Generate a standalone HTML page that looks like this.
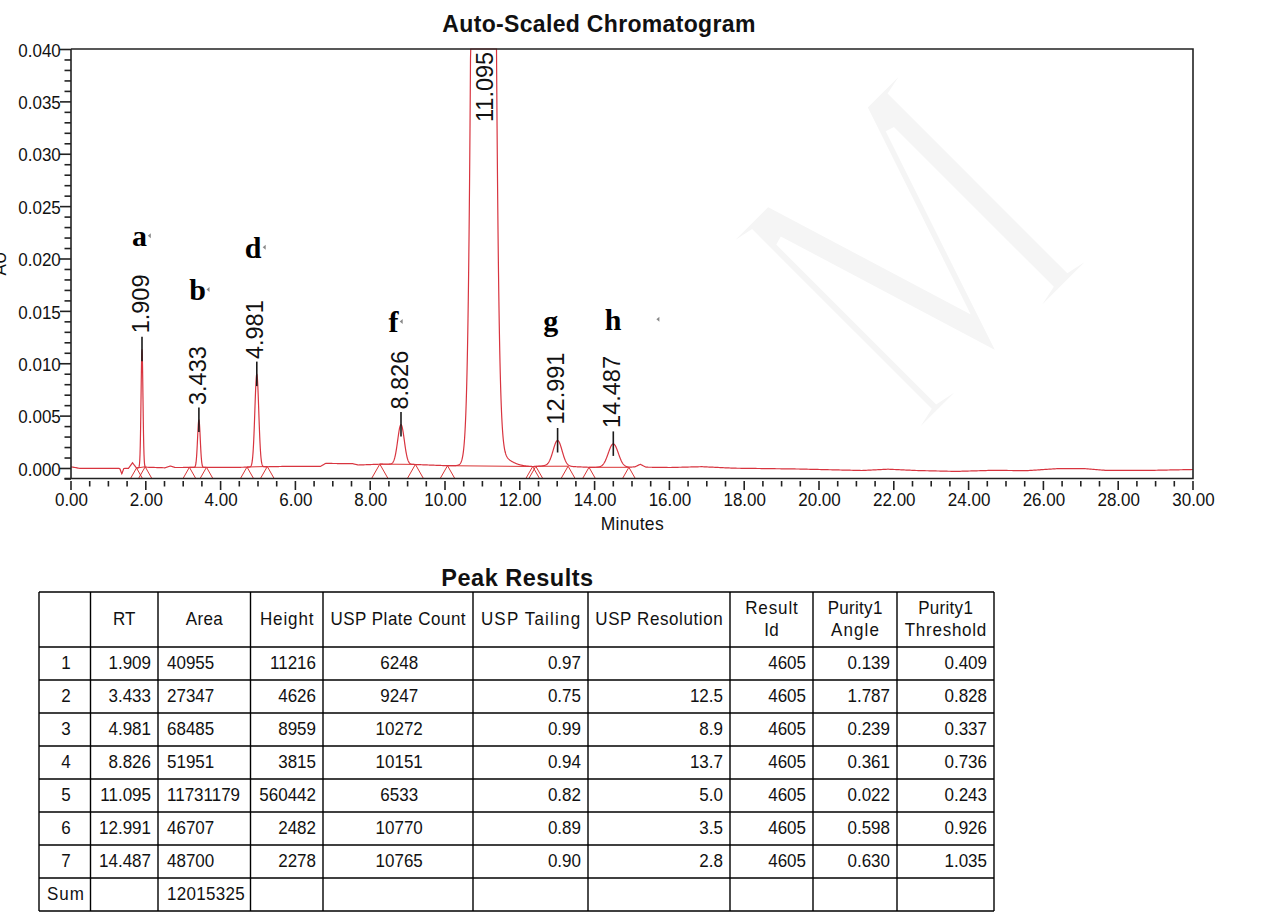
<!DOCTYPE html>
<html><head><meta charset="utf-8"><style>
html,body{margin:0;padding:0;background:#fff;width:1263px;height:917px;overflow:hidden}
svg{display:block}
text{font-family:"Liberation Sans",sans-serif;fill:#111}
.title{font-weight:bold;font-size:23px;letter-spacing:0.33px}
.ylab text{font-size:17px;text-anchor:end}
.xlab text{font-size:17px;text-anchor:middle}
.plab text{font-size:23.5px}
.lets text{font-family:"Liberation Serif",serif;font-weight:bold;font-size:30px;fill:#000}
.tab text{font-size:17px}
.hc{text-anchor:middle} .hr{text-anchor:end} .hl{text-anchor:start}
</style></head><body>
<svg width="1263" height="917" viewBox="0 0 1263 917">
<text transform="translate(912,444) rotate(-45) scale(0.72,1)" style="font-family:'Liberation Serif',serif;font-size:421px;fill:#f5f5f5;stroke:#fff;stroke-width:13px">M</text>
<text class="title" x="599" y="31.5" text-anchor="middle">Auto-Scaled Chromatogram</text>
<g stroke="#d62020" stroke-width="1" fill="none" opacity="0.9">
<polyline points="130.51,478.5 136.5,468.0 142.49,478.5"/><polyline points="138.53,478.5 145.2,466.8 151.87,478.5"/><polyline points="183.02,478.5 189.4,467.3 195.78,478.5"/><polyline points="200.12,478.5 206.5,467.3 212.88,478.5"/><polyline points="240.44,478.5 247,467.0 253.56,478.5"/><polyline points="260.46,478.5 267.3,466.5 274.14,478.5"/><polyline points="371.59,478.5 379.8,464.1 388.01,478.5"/><polyline points="407.36,478.5 415.4,464.4 423.44,478.5"/><polyline points="440.20,478.5 447.5,465.7 454.80,478.5"/><polyline points="525.86,478.5 532.7,466.5 539.54,478.5"/><polyline points="528.85,478.5 535.8,466.3 542.75,478.5"/><polyline points="561.09,478.5 568.1,466.2 575.11,478.5"/><polyline points="582.62,478.5 589,467.3 595.38,478.5"/><polyline points="622.52,478.5 628.9,467.3 635.28,478.5"/>
<line x1="136.5" y1="468.0" x2="145.2" y2="466.8"/><line x1="189.4" y1="467.3" x2="206.5" y2="467.3"/><line x1="247" y1="467.0" x2="267.3" y2="466.5"/><line x1="379.8" y1="464.1" x2="415.4" y2="464.4"/><line x1="447.5" y1="465.7" x2="532.7" y2="466.5"/><line x1="535.8" y1="466.3" x2="568.1" y2="466.2"/><line x1="589" y1="467.3" x2="628.9" y2="467.3"/>
</g>
<polyline fill="none" stroke="#d8343f" stroke-width="1.2" points="71.00,466.80 72.00,466.98 73.00,467.16 74.00,467.33 75.00,467.51 76.00,467.69 77.00,467.87 78.00,468.04 79.00,468.22 80.00,468.40 81.00,468.40 82.00,468.40 83.00,468.40 84.00,468.40 85.00,468.40 86.00,468.40 87.00,468.40 88.00,468.40 89.00,468.40 90.00,468.40 91.00,468.40 92.00,468.40 93.00,468.40 94.00,468.40 95.00,468.40 96.00,468.40 97.00,468.40 98.00,468.40 99.00,468.40 100.00,468.40 101.00,468.40 102.00,468.40 103.00,468.40 104.00,468.40 105.00,468.40 106.00,468.40 107.00,468.40 108.00,468.40 109.00,468.40 110.00,468.40 111.00,468.40 112.00,468.40 113.00,468.40 114.00,468.40 115.00,468.40 116.00,468.40 117.00,468.40 118.00,468.40 119.00,468.40 120.00,468.95 121.00,471.70 121.25,472.39 121.50,473.07 121.75,473.76 122.00,473.36 122.25,472.69 122.50,472.01 122.75,471.33 123.00,470.66 123.25,469.99 123.50,469.31 123.75,468.63 124.00,468.49 124.25,468.48 124.50,468.47 124.75,468.46 125.00,468.45 125.25,468.44 125.50,468.43 125.75,468.42 126.00,468.41 126.25,468.40 126.50,468.39 126.75,468.37 127.00,468.36 127.25,468.35 127.50,468.34 127.75,468.33 128.00,468.32 128.25,468.31 128.50,468.30 128.75,467.96 129.00,467.61 129.25,467.27 129.50,466.93 129.75,466.58 130.00,466.24 130.25,465.89 130.50,465.55 130.75,465.21 131.00,464.86 131.25,464.52 131.50,464.18 131.75,463.83 132.00,463.49 132.25,463.14 132.50,462.80 132.75,463.12 133.00,463.45 133.25,463.78 133.50,464.10 133.75,464.43 134.00,464.75 134.25,465.07 134.50,465.40 134.75,465.72 135.00,466.05 135.25,466.37 135.50,466.70 135.75,467.02 136.00,467.35 136.25,467.67 136.50,468.00 136.75,467.98 137.00,467.96 137.25,467.94 137.50,467.91 137.75,467.89 138.00,467.86 138.25,467.80 138.50,467.70 138.75,467.47 139.00,466.98 139.25,465.98 139.50,464.04 139.75,460.57 140.00,454.81 140.25,446.01 140.50,433.67 140.75,417.89 141.00,399.68 141.25,381.02 141.50,364.63 141.75,353.35 142.00,349.30 142.25,353.30 142.50,364.55 142.75,380.89 143.00,399.51 143.25,417.68 143.50,433.42 143.75,445.72 144.00,454.48 144.25,460.19 144.50,463.62 144.75,465.51 145.00,466.48 145.25,466.92 145.50,467.11 145.75,467.17 146.00,467.18 146.25,467.20 146.50,467.21 146.75,467.22 147.00,467.23 147.25,467.24 147.50,467.25 147.75,467.26 148.00,467.26 148.25,467.27 148.50,467.28 148.75,467.29 149.00,467.29 149.25,467.30 149.50,467.31 149.75,467.32 150.00,467.33 150.25,467.33 150.50,467.34 150.75,467.35 151.00,467.36 151.25,467.37 151.50,467.37 151.75,467.38 152.00,467.39 152.25,467.40 152.50,467.41 152.75,467.41 153.00,467.42 153.25,467.43 153.50,467.44 153.75,467.44 154.00,467.45 154.25,467.46 154.50,467.47 154.75,467.48 155.00,467.48 155.25,467.49 155.50,467.50 155.75,467.51 156.00,467.52 156.25,467.52 156.50,467.53 156.75,467.54 157.00,467.55 157.25,467.56 157.50,467.56 157.75,467.57 158.00,467.58 158.25,467.59 158.50,467.59 158.75,467.60 159.00,467.61 159.25,467.62 159.50,467.63 159.75,467.63 160.00,467.64 160.25,467.65 160.50,467.66 160.75,467.67 161.00,467.67 161.25,467.68 161.50,467.69 161.75,467.70 162.00,467.71 162.25,467.71 162.50,467.72 162.75,467.73 163.00,467.74 163.25,467.74 163.50,467.75 163.75,467.76 164.00,467.77 164.25,467.78 164.50,467.78 164.75,467.79 165.00,467.80 165.25,467.72 165.50,467.63 165.75,467.55 166.00,467.47 166.25,467.38 166.50,467.30 166.75,467.22 167.00,467.13 167.25,467.05 167.50,466.97 167.75,466.88 168.00,466.80 168.25,466.72 168.50,466.63 168.75,466.55 169.00,466.47 169.25,466.38 169.50,466.30 169.75,466.22 170.00,466.13 170.25,466.05 170.50,466.03 170.75,466.11 171.00,466.20 171.25,466.28 171.50,466.36 171.75,466.44 172.00,466.52 172.25,466.60 172.50,466.68 172.75,466.77 173.00,466.85 173.25,466.93 173.50,467.01 173.75,467.09 174.00,467.17 174.25,467.26 174.50,467.34 174.75,467.42 175.00,467.50 175.25,467.50 175.50,467.50 175.75,467.50 176.00,467.50 176.25,467.50 176.50,467.50 176.75,467.49 177.00,467.49 177.25,467.49 177.50,467.49 177.75,467.49 178.00,467.49 178.25,467.49 178.50,467.49 178.75,467.49 179.00,467.49 179.25,467.49 179.50,467.49 179.75,467.49 180.00,467.48 180.25,467.48 180.50,467.48 180.75,467.48 181.00,467.48 181.25,467.48 181.50,467.48 181.75,467.48 182.00,467.48 182.25,467.48 182.50,467.48 182.75,467.48 183.00,467.48 183.25,467.47 183.50,467.47 183.75,467.47 184.00,467.47 184.25,467.47 184.50,467.47 184.75,467.47 185.00,467.47 185.25,467.47 185.50,467.47 185.75,467.47 186.00,467.47 186.25,467.47 186.50,467.46 186.75,467.46 187.00,467.46 187.25,467.46 187.50,467.46 187.75,467.46 188.00,467.46 188.25,467.46 188.50,467.46 188.75,467.46 189.00,467.46 189.25,467.46 189.50,467.46 189.75,467.45 190.00,467.45 190.25,467.45 190.50,467.45 190.75,467.45 191.00,467.45 191.25,467.45 191.50,467.45 191.75,467.45 192.00,467.45 192.25,467.45 192.50,467.45 192.75,467.44 193.00,467.44 193.25,467.44 193.50,467.43 193.75,467.41 194.00,467.38 194.25,467.31 194.50,467.21 194.75,467.02 195.00,466.71 195.25,466.21 195.50,465.45 195.75,464.32 196.00,462.71 196.25,460.53 196.50,457.67 196.75,454.09 197.00,449.82 197.25,444.96 197.50,439.73 197.75,434.44 198.00,429.45 198.25,425.19 198.50,422.04 198.75,420.29 199.00,420.13 199.25,421.57 199.50,424.46 199.75,428.53 200.00,433.39 200.25,438.66 200.50,443.93 200.75,448.88 201.00,453.28 201.25,457.00 201.50,460.00 201.75,462.31 202.00,464.02 202.25,465.23 202.50,466.06 202.75,466.60 203.00,466.94 203.25,467.15 203.50,467.27 203.75,467.34 204.00,467.37 204.25,467.39 204.50,467.40 204.75,467.40 205.00,467.41 205.25,467.41 205.50,467.41 205.75,467.41 206.00,467.40 206.25,467.40 206.50,467.40 206.75,467.40 207.00,467.40 207.25,467.40 207.50,467.40 207.75,467.40 208.00,467.40 208.25,467.40 208.50,467.40 208.75,467.40 209.00,467.40 209.25,467.39 209.50,467.39 209.75,467.39 210.00,467.39 210.25,467.39 210.50,467.39 210.75,467.39 211.00,467.39 211.25,467.39 211.50,467.39 211.75,467.39 212.00,467.39 212.25,467.39 212.50,467.38 212.75,467.38 213.00,467.38 213.25,467.38 213.50,467.38 213.75,467.38 214.00,467.38 214.25,467.38 214.50,467.38 214.75,467.38 215.00,467.38 215.25,467.38 215.50,467.38 215.75,467.37 216.00,467.37 216.25,467.37 216.50,467.37 216.75,467.37 217.00,467.37 217.25,467.37 217.50,467.37 217.75,467.37 218.00,467.37 218.25,467.37 218.50,467.37 218.75,467.37 219.00,467.36 219.25,467.36 219.50,467.36 219.75,467.36 220.00,467.36 220.25,467.36 220.50,467.36 220.75,467.36 221.00,467.36 221.25,467.36 221.50,467.36 221.75,467.36 222.00,467.36 222.25,467.35 222.50,467.35 222.75,467.35 223.00,467.35 223.25,467.35 223.50,467.35 223.75,467.35 224.00,467.35 224.25,467.35 224.50,467.35 224.75,467.35 225.00,467.35 225.25,467.35 225.50,467.34 225.75,467.34 226.00,467.34 226.25,467.34 226.50,467.34 226.75,467.34 227.00,467.34 227.25,467.34 227.50,467.34 227.75,467.34 228.00,467.34 228.25,467.34 228.50,467.34 228.75,467.33 229.00,467.33 229.25,467.33 229.50,467.33 229.75,467.33 230.00,467.33 230.25,467.33 230.50,467.33 230.75,467.33 231.00,467.33 231.25,467.33 231.50,467.33 231.75,467.33 232.00,467.32 232.25,467.32 232.50,467.32 232.75,467.32 233.00,467.32 233.25,467.32 233.50,467.32 233.75,467.32 234.00,467.32 234.25,467.32 234.50,467.32 234.75,467.32 235.00,467.32 235.25,467.31 235.50,467.31 235.75,467.31 236.00,467.31 236.25,467.31 236.50,467.31 236.75,467.31 237.00,467.31 237.25,467.31 237.50,467.31 237.75,467.31 238.00,467.31 238.25,467.31 238.50,467.30 238.75,467.30 239.00,467.30 239.25,467.30 239.50,467.30 239.75,467.30 240.00,467.30 240.25,467.30 240.50,467.29 240.75,467.28 241.00,467.28 241.25,467.27 241.50,467.27 241.75,467.26 242.00,467.26 242.25,467.25 242.50,467.25 242.75,467.24 243.00,467.24 243.25,467.23 243.50,467.23 243.75,467.22 244.00,467.22 244.25,467.21 244.50,467.21 244.75,467.20 245.00,467.20 245.25,467.19 245.50,467.19 245.75,467.18 246.00,467.18 246.25,467.17 246.50,467.17 246.75,467.16 247.00,467.16 247.25,467.15 247.50,467.15 247.75,467.14 248.00,467.14 248.25,467.13 248.50,467.12 248.75,467.11 249.00,467.09 249.25,467.06 249.50,467.03 249.75,466.97 250.00,466.89 250.25,466.77 250.50,466.59 250.75,466.33 251.00,465.97 251.25,465.46 251.50,464.76 251.75,463.82 252.00,462.57 252.25,460.95 252.50,458.89 252.75,456.30 253.00,453.13 253.25,449.33 253.50,444.85 253.75,439.70 254.00,433.90 254.25,427.52 254.50,420.69 254.75,413.57 255.00,406.35 255.25,399.29 255.50,392.63 255.75,386.65 256.00,381.61 256.25,377.73 256.50,375.20 256.75,374.13 257.00,374.58 257.25,376.53 257.50,379.88 257.75,384.47 258.00,390.10 258.25,396.50 258.50,403.42 258.75,410.60 259.00,417.78 259.25,424.74 259.50,431.30 259.75,437.33 260.00,442.74 260.25,447.48 260.50,451.54 260.75,454.95 261.00,457.75 261.25,460.00 261.50,461.78 261.75,463.16 262.00,464.21 262.25,464.99 262.50,465.55 262.75,465.96 263.00,466.25 263.25,466.44 263.50,466.58 263.75,466.66 264.00,466.72 264.25,466.75 264.50,466.77 264.75,466.78 265.00,466.79 265.25,466.79 265.50,466.79 265.75,466.78 266.00,466.78 266.25,466.77 266.50,466.77 266.75,466.76 267.00,466.76 267.25,466.75 267.50,466.75 267.75,466.74 268.00,466.74 268.25,466.73 268.50,466.73 268.75,466.72 269.00,466.72 269.25,466.71 269.50,466.71 269.75,466.70 270.00,466.70 270.25,466.69 270.50,466.69 270.75,466.68 271.00,466.68 271.25,466.67 271.50,466.67 271.75,466.66 272.00,466.66 272.25,466.65 272.50,466.65 272.75,466.64 273.00,466.64 273.25,466.63 273.50,466.63 273.75,466.62 274.00,466.62 274.25,466.62 274.50,466.61 274.75,466.61 275.00,466.60 275.25,466.60 275.50,466.59 275.75,466.59 276.00,466.58 276.25,466.57 276.50,466.57 276.75,466.56 277.00,466.56 277.25,466.56 277.50,466.55 277.75,466.55 278.00,466.54 278.25,466.54 278.50,466.53 278.75,466.53 279.00,466.52 279.25,466.51 279.50,466.51 279.75,466.50 280.00,466.50 280.25,466.50 280.50,466.49 280.75,466.49 281.00,466.48 281.25,466.48 281.50,466.47 281.75,466.47 282.00,466.46 282.25,466.45 282.50,466.45 282.75,466.44 283.00,466.44 283.25,466.44 283.50,466.43 283.75,466.43 284.00,466.42 284.25,466.42 284.50,466.41 284.75,466.41 285.00,466.40 285.25,466.40 285.50,466.39 285.75,466.38 286.00,466.38 286.25,466.38 286.50,466.37 286.75,466.37 287.00,466.36 287.25,466.36 287.50,466.35 287.75,466.35 288.00,466.34 288.25,466.34 288.50,466.33 288.75,466.32 289.00,466.32 289.25,466.31 289.50,466.31 289.75,466.31 290.00,466.30 290.25,466.30 290.50,466.30 290.75,466.30 291.00,466.30 291.25,466.30 291.50,466.30 291.75,466.30 292.00,466.30 292.25,466.30 292.50,466.30 292.75,466.30 293.00,466.30 293.25,466.30 293.50,466.30 293.75,466.30 294.00,466.30 294.25,466.30 294.50,466.30 294.75,466.30 295.00,466.30 295.25,466.30 295.50,466.30 295.75,466.30 296.00,466.30 296.25,466.30 296.50,466.30 296.75,466.30 297.00,466.30 297.25,466.30 297.50,466.30 297.75,466.30 298.00,466.30 298.25,466.30 298.50,466.30 298.75,466.30 299.00,466.30 299.25,466.30 299.50,466.30 299.75,466.30 300.00,466.30 300.25,466.30 300.50,466.30 300.75,466.30 301.00,466.30 301.25,466.30 301.50,466.30 301.75,466.30 302.00,466.30 302.25,466.30 302.50,466.30 302.75,466.30 303.00,466.30 303.25,466.30 303.50,466.30 303.75,466.30 304.00,466.30 304.25,466.30 304.50,466.30 304.75,466.30 305.00,466.30 305.25,466.30 305.50,466.30 305.75,466.30 306.00,466.30 306.25,466.30 306.50,466.30 306.75,466.30 307.00,466.30 307.25,466.30 307.50,466.30 307.75,466.30 308.00,466.30 308.25,466.30 308.50,466.30 308.75,466.30 309.00,466.30 309.25,466.30 309.50,466.30 309.75,466.30 310.00,466.30 310.25,466.30 310.50,466.30 310.75,466.30 311.00,466.30 311.25,466.30 311.50,466.30 311.75,466.30 312.00,466.30 312.25,466.30 312.50,466.30 312.75,466.30 313.00,466.30 313.25,466.30 313.50,466.30 313.75,466.30 314.00,466.30 314.25,466.30 314.50,466.30 314.75,466.30 315.00,466.30 315.25,466.30 315.50,466.30 315.75,466.30 316.00,466.30 316.25,466.30 316.50,466.30 316.75,466.30 317.00,466.30 317.25,466.30 317.50,466.30 317.75,466.30 318.00,466.30 318.25,466.30 318.50,466.30 318.75,466.30 319.00,466.30 319.25,466.30 319.50,466.30 319.75,466.30 320.00,466.30 320.25,466.30 320.50,466.30 320.75,466.21 321.00,466.07 321.25,465.92 321.50,465.78 321.75,465.63 322.00,465.49 322.25,465.34 322.50,465.20 322.75,465.05 323.00,464.91 323.25,464.76 323.50,464.62 323.75,464.47 324.00,464.33 324.25,464.18 324.50,464.04 324.75,463.89 325.00,463.75 325.25,463.60 325.50,463.46 325.75,463.40 326.00,463.40 326.25,463.41 326.50,463.41 326.75,463.41 327.00,463.42 327.25,463.42 327.50,463.42 327.75,463.42 328.00,463.43 328.25,463.43 328.50,463.43 328.75,463.43 329.00,463.44 329.25,463.44 329.50,463.44 329.75,463.45 330.00,463.45 330.25,463.45 330.50,463.45 330.75,463.46 331.00,463.46 331.25,463.46 331.50,463.47 331.75,463.47 332.00,463.47 332.25,463.47 332.50,463.48 332.75,463.48 333.00,463.48 333.25,463.48 333.50,463.49 333.75,463.49 334.00,463.49 334.25,463.50 334.50,463.50 334.75,463.50 335.00,463.50 335.25,463.51 335.50,463.51 335.75,463.51 336.00,463.52 336.25,463.52 336.50,463.52 336.75,463.52 337.00,463.53 337.25,463.53 337.50,463.53 337.75,463.53 338.00,463.54 338.25,463.54 338.50,463.54 338.75,463.55 339.00,463.55 339.25,463.55 339.50,463.55 339.75,463.56 340.00,463.56 340.25,463.56 340.50,463.56 340.75,463.57 341.00,463.57 341.25,463.57 341.50,463.58 341.75,463.58 342.00,463.58 342.25,463.58 342.50,463.59 342.75,463.59 343.00,463.59 343.25,463.60 343.50,463.60 343.75,463.60 344.00,463.60 344.25,463.61 344.50,463.61 344.75,463.61 345.00,463.61 345.25,463.62 345.50,463.62 345.75,463.62 346.00,463.63 346.25,463.63 346.50,463.63 346.75,463.63 347.00,463.64 347.25,463.64 347.50,463.64 347.75,463.65 348.00,463.65 348.25,463.65 348.50,463.65 348.75,463.66 349.00,463.66 349.25,463.66 349.50,463.66 349.75,463.67 350.00,463.67 350.25,463.67 350.50,463.68 350.75,463.68 351.00,463.68 351.25,463.68 351.50,463.69 351.75,463.69 352.00,463.69 352.25,463.70 352.50,463.70 352.75,463.71 353.00,463.77 353.25,463.83 353.50,463.88 353.75,463.94 354.00,464.00 354.25,464.05 354.50,464.11 354.75,464.17 355.00,464.22 355.25,464.28 355.50,464.34 355.75,464.40 356.00,464.45 356.25,464.51 356.50,464.57 356.75,464.62 357.00,464.68 357.25,464.74 357.50,464.79 357.75,464.85 358.00,464.91 358.25,464.97 358.50,465.00 358.75,464.99 359.00,464.98 359.25,464.97 359.50,464.96 359.75,464.95 360.00,464.94 360.25,464.93 360.50,464.92 360.75,464.91 361.00,464.90 361.25,464.89 361.50,464.89 361.75,464.88 362.00,464.87 362.25,464.86 362.50,464.85 362.75,464.84 363.00,464.83 363.25,464.82 363.50,464.81 363.75,464.80 364.00,464.79 364.25,464.78 364.50,464.77 364.75,464.76 365.00,464.76 365.25,464.75 365.50,464.74 365.75,464.73 366.00,464.72 366.25,464.71 366.50,464.70 366.75,464.69 367.00,464.68 367.25,464.67 367.50,464.66 367.75,464.65 368.00,464.64 368.25,464.64 368.50,464.63 368.75,464.62 369.00,464.61 369.25,464.60 369.50,464.59 369.75,464.58 370.00,464.57 370.25,464.56 370.50,464.55 370.75,464.54 371.00,464.53 371.25,464.52 371.50,464.51 371.75,464.51 372.00,464.50 372.25,464.49 372.50,464.48 372.75,464.47 373.00,464.46 373.25,464.45 373.50,464.44 373.75,464.43 374.00,464.42 374.25,464.41 374.50,464.40 374.75,464.39 375.00,464.39 375.25,464.38 375.50,464.37 375.75,464.36 376.00,464.35 376.25,464.34 376.50,464.33 376.75,464.32 377.00,464.31 377.25,464.30 377.50,464.29 377.75,464.28 378.00,464.27 378.25,464.26 378.50,464.26 378.75,464.25 379.00,464.24 379.25,464.23 379.50,464.22 379.75,464.21 380.00,464.20 380.25,464.20 380.50,464.20 380.75,464.21 381.00,464.21 381.25,464.21 381.50,464.21 381.75,464.21 382.00,464.22 382.25,464.22 382.50,464.22 382.75,464.22 383.00,464.23 383.25,464.23 383.50,464.23 383.75,464.23 384.00,464.23 384.25,464.24 384.50,464.24 384.75,464.24 385.00,464.24 385.25,464.24 385.50,464.25 385.75,464.25 386.00,464.25 386.25,464.25 386.50,464.25 386.75,464.25 387.00,464.26 387.25,464.26 387.50,464.26 387.75,464.25 388.00,464.25 388.25,464.25 388.50,464.24 388.75,464.23 389.00,464.22 389.25,464.21 389.50,464.19 389.75,464.16 390.00,464.13 390.25,464.09 390.50,464.04 390.75,463.97 391.00,463.89 391.25,463.79 391.50,463.67 391.75,463.52 392.00,463.34 392.25,463.12 392.50,462.87 392.75,462.56 393.00,462.21 393.25,461.79 393.50,461.31 393.75,460.76 394.00,460.13 394.25,459.41 394.50,458.61 394.75,457.71 395.00,456.71 395.25,455.61 395.50,454.41 395.75,453.11 396.00,451.71 396.25,450.22 396.50,448.64 396.75,446.99 397.00,445.26 397.25,443.49 397.50,441.68 397.75,439.86 398.00,438.04 398.25,436.25 398.50,434.50 398.75,432.83 399.00,431.26 399.25,429.80 399.50,428.49 399.75,427.34 400.00,426.38 400.25,425.61 400.50,425.05 400.75,424.71 401.00,424.60 401.25,424.72 401.50,425.06 401.75,425.62 402.00,426.39 402.25,427.36 402.50,428.52 402.75,429.83 403.00,431.29 403.25,432.87 403.50,434.54 403.75,436.29 404.00,438.09 404.25,439.91 404.50,441.74 404.75,443.55 405.00,445.33 405.25,447.06 405.50,448.72 405.75,450.30 406.00,451.80 406.25,453.20 406.50,454.51 406.75,455.71 407.00,456.81 407.25,457.82 407.50,458.72 407.75,459.53 408.00,460.25 408.25,460.88 408.50,461.44 408.75,461.92 409.00,462.34 409.25,462.70 409.50,463.01 409.75,463.27 410.00,463.49 410.25,463.68 410.50,463.83 410.75,463.96 411.00,464.06 411.25,464.15 411.50,464.22 411.75,464.27 412.00,464.32 412.25,464.36 412.50,464.39 412.75,464.41 413.00,464.43 413.25,464.44 413.50,464.46 413.75,464.47 414.00,464.47 414.25,464.48 414.50,464.49 414.75,464.49 415.00,464.50 415.25,464.51 415.50,464.52 415.75,464.53 416.00,464.54 416.25,464.55 416.50,464.56 416.75,464.57 417.00,464.57 417.25,464.58 417.50,464.59 417.75,464.60 418.00,464.61 418.25,464.62 418.50,464.63 418.75,464.64 419.00,464.65 419.25,464.66 419.50,464.67 419.75,464.68 420.00,464.69 420.25,464.70 420.50,464.71 420.75,464.72 421.00,464.72 421.25,464.73 421.50,464.74 421.75,464.75 422.00,464.76 422.25,464.77 422.50,464.78 422.75,464.79 423.00,464.80 423.25,464.81 423.50,464.82 423.75,464.83 424.00,464.84 424.25,464.85 424.50,464.86 424.75,464.87 425.00,464.87 425.25,464.88 425.50,464.89 425.75,464.90 426.00,464.91 426.25,464.92 426.50,464.93 426.75,464.94 427.00,464.95 427.25,464.96 427.50,464.97 427.75,464.98 428.00,464.99 428.25,465.00 428.50,465.01 428.75,465.02 429.00,465.02 429.25,465.03 429.50,465.04 429.75,465.05 430.00,465.06 430.25,465.07 430.50,465.08 430.75,465.09 431.00,465.10 431.25,465.11 431.50,465.12 431.75,465.13 432.00,465.14 432.25,465.15 432.50,465.16 432.75,465.17 433.00,465.17 433.25,465.18 433.50,465.19 433.75,465.20 434.00,465.21 434.25,465.22 434.50,465.23 434.75,465.24 435.00,465.25 435.25,465.26 435.50,465.27 435.75,465.28 436.00,465.29 436.25,465.30 436.50,465.31 436.75,465.32 437.00,465.32 437.25,465.33 437.50,465.34 437.75,465.35 438.00,465.36 438.25,465.37 438.50,465.38 438.75,465.39 439.00,465.40 439.25,465.41 439.50,465.42 439.75,465.43 440.00,465.44 440.25,465.45 440.50,465.46 440.75,465.47 441.00,465.47 441.25,465.48 441.50,465.49 441.75,465.50 442.00,465.51 442.25,465.52 442.50,465.53 442.75,465.54 443.00,465.55 443.25,465.56 443.50,465.57 443.75,465.58 444.00,465.59 444.25,465.60 444.50,465.60 444.75,465.61 445.00,465.62 445.25,465.63 445.50,465.64 445.75,465.65 446.00,465.66 446.25,465.67 446.50,465.68 446.75,465.69 447.00,465.70 447.25,465.70 447.50,465.69 447.75,465.69 448.00,465.69 448.25,465.69 448.50,465.69 448.75,465.69 449.00,465.69 449.25,465.69 449.50,465.69 449.75,465.68 450.00,465.68 450.25,465.68 450.50,465.68 450.75,465.68 451.00,465.68 451.25,465.67 451.50,465.67 451.75,465.67 452.00,465.67 452.25,465.67 452.50,465.66 452.75,465.66 453.00,465.66 453.25,465.65 453.50,465.65 453.75,465.64 454.00,465.63 454.25,465.63 454.50,465.62 454.75,465.61 455.00,465.60 455.25,465.59 455.50,465.57 455.75,465.55 456.00,465.53 456.25,465.51 456.50,465.48 456.75,465.45 457.00,465.41 457.25,465.36 457.50,465.31 457.75,465.25 458.00,465.17 458.25,465.08 458.50,464.98 458.75,464.86 459.00,464.72 459.25,464.55 459.50,464.35 459.75,464.12 460.00,463.85 460.25,463.54 460.50,463.18 460.75,462.75 461.00,462.26 461.25,461.69 461.50,461.03 461.75,460.26 462.00,459.38 462.25,458.37 462.50,457.20 462.75,455.86 463.00,454.33 463.25,452.58 463.50,450.58 463.75,448.30 464.00,445.71 464.25,442.77 464.50,439.44 464.75,435.68 465.00,431.43 465.25,426.64 465.50,421.27 465.75,415.23 466.00,408.48 466.25,400.93 466.50,392.51 466.75,383.14 467.00,372.73 467.25,361.20 467.50,348.43 467.75,334.34 468.00,318.80 468.25,301.72 468.50,282.98 468.75,262.45 469.00,240.02 469.25,215.55 469.50,188.92 469.75,160.00 470.00,128.65 470.25,94.75 470.50,58.16 470.75,49.00 471.00,49.00 471.25,49.00 471.50,49.00 471.75,49.00 472.00,49.00 472.25,49.00 472.50,49.00 472.75,49.00 473.00,49.00 473.25,49.00 473.50,49.00 473.75,49.00 474.00,49.00 474.25,49.00 474.50,49.00 474.75,49.00 475.00,49.00 475.25,49.00 475.50,49.00 475.75,49.00 476.00,49.00 476.25,49.00 476.50,49.00 476.75,49.00 477.00,49.00 477.25,49.00 477.50,49.00 477.75,49.00 478.00,49.00 478.25,49.00 478.50,49.00 478.75,49.00 479.00,49.00 479.25,49.00 479.50,49.00 479.75,49.00 480.00,49.00 480.25,49.00 480.50,49.00 480.75,49.00 481.00,49.00 481.25,49.00 481.50,49.00 481.75,49.00 482.00,49.00 482.25,49.00 482.50,49.00 482.75,49.00 483.00,49.00 483.25,49.00 483.50,49.00 483.75,49.00 484.00,49.00 484.25,49.00 484.50,49.00 484.75,49.00 485.00,49.00 485.25,49.00 485.50,49.00 485.75,49.00 486.00,49.00 486.25,49.00 486.50,49.00 486.75,49.00 487.00,49.00 487.25,49.00 487.50,49.00 487.75,49.00 488.00,49.00 488.25,49.00 488.50,49.00 488.75,49.00 489.00,49.00 489.25,49.00 489.50,49.00 489.75,49.00 490.00,49.00 490.25,49.00 490.50,49.00 490.75,49.00 491.00,49.00 491.25,49.00 491.50,49.00 491.75,49.00 492.00,49.00 492.25,49.00 492.50,49.00 492.75,49.00 493.00,49.00 493.25,49.00 493.50,49.00 493.75,49.00 494.00,49.00 494.25,49.00 494.50,49.00 494.75,49.00 495.00,49.00 495.25,49.00 495.50,49.00 495.75,49.00 496.00,49.00 496.25,49.00 496.50,49.00 496.75,84.26 497.00,118.13 497.25,149.46 497.50,178.38 497.75,205.01 498.00,229.48 498.25,251.93 498.50,272.47 498.75,291.24 499.00,308.35 499.25,323.92 499.50,338.05 499.75,350.87 500.00,362.46 500.25,372.93 500.50,382.38 500.75,390.87 501.00,398.50 501.25,405.34 501.50,411.47 501.75,416.94 502.00,421.83 502.25,426.18 502.50,430.05 502.75,433.49 503.00,436.55 503.25,439.26 503.50,441.66 503.75,443.79 504.00,445.67 504.25,447.33 504.50,448.80 504.75,450.10 505.00,451.26 505.25,452.28 505.50,453.18 505.75,453.99 506.00,454.70 506.25,455.34 506.50,455.91 506.75,456.42 507.00,456.88 507.25,457.30 507.50,457.68 507.75,458.02 508.00,458.34 508.25,458.63 508.50,458.90 508.75,459.16 509.00,459.39 509.25,459.62 509.50,459.83 509.75,460.03 510.00,460.22 510.25,460.40 510.50,460.58 510.75,460.75 511.00,460.91 511.25,461.07 511.50,461.23 511.75,461.38 512.00,461.52 512.25,461.67 512.50,461.81 512.75,461.95 513.00,462.08 513.25,462.21 513.50,462.34 513.75,462.47 514.00,462.59 514.25,462.71 514.50,462.83 514.75,462.95 515.00,463.06 515.25,463.17 515.50,463.28 515.75,463.38 516.00,463.49 516.25,463.59 516.50,463.69 516.75,463.79 517.00,463.88 517.25,463.97 517.50,464.06 517.75,464.15 518.00,464.23 518.25,464.32 518.50,464.40 518.75,464.48 519.00,464.55 519.25,464.63 519.50,464.70 519.75,464.77 520.00,464.84 520.25,464.90 520.50,464.97 520.75,465.03 521.00,465.09 521.25,465.15 521.50,465.20 521.75,465.26 522.00,465.31 522.25,465.36 522.50,465.41 522.75,465.46 523.00,465.51 523.25,465.55 523.50,465.60 523.75,465.64 524.00,465.68 524.25,465.72 524.50,465.76 524.75,465.79 525.00,465.83 525.25,465.86 525.50,465.90 525.75,465.93 526.00,465.96 526.25,465.99 526.50,466.02 526.75,466.05 527.00,466.08 527.25,466.10 527.50,466.13 527.75,466.15 528.00,466.17 528.25,466.20 528.50,466.22 528.75,466.24 529.00,466.26 529.25,466.28 529.50,466.30 529.75,466.32 530.00,466.34 530.25,466.36 530.50,466.37 530.75,466.39 531.00,466.41 531.25,466.42 531.50,466.44 531.75,466.45 532.00,466.47 532.25,466.48 532.50,466.49 532.75,466.51 533.00,466.52 533.25,466.51 533.50,466.50 533.75,466.48 534.00,466.47 534.25,466.46 534.50,466.45 534.75,466.43 535.00,466.42 535.25,466.41 535.50,466.39 535.75,466.38 536.00,466.36 536.25,466.35 536.50,466.34 536.75,466.32 537.00,466.31 537.25,466.29 537.50,466.28 537.75,466.26 538.00,466.25 538.25,466.23 538.50,466.21 538.75,466.20 539.00,466.18 539.25,466.16 539.50,466.15 539.75,466.13 540.00,466.11 540.25,466.09 540.50,466.07 540.75,466.05 541.00,466.03 541.25,466.01 541.50,465.98 541.75,465.96 542.00,465.93 542.25,465.90 542.50,465.87 542.75,465.83 543.00,465.80 543.25,465.75 543.50,465.71 543.75,465.66 544.00,465.60 544.25,465.53 544.50,465.46 544.75,465.38 545.00,465.29 545.25,465.21 545.50,465.12 545.75,465.02 546.00,464.90 546.25,464.77 546.50,464.61 546.75,464.44 547.00,464.25 547.25,464.04 547.50,463.80 547.75,463.54 548.00,463.24 548.25,462.92 548.50,462.57 548.75,462.19 549.00,461.78 549.25,461.33 549.50,460.85 549.75,460.33 550.00,459.77 550.25,459.18 550.50,458.56 550.75,457.90 551.00,457.21 551.25,456.49 551.50,455.74 551.75,454.97 552.00,454.17 552.25,453.35 552.50,452.51 552.75,451.66 553.00,450.81 553.25,449.95 553.50,449.10 553.75,448.25 554.00,447.42 554.25,446.62 554.50,445.83 554.75,445.08 555.00,444.37 555.25,443.71 555.50,443.09 555.75,442.53 556.00,442.03 556.25,441.59 556.50,441.23 556.75,440.93 557.00,440.71 557.25,440.57 557.50,440.50 557.75,440.52 558.00,440.61 558.25,440.78 558.50,441.03 558.75,441.35 559.00,441.75 559.25,442.21 559.50,442.74 559.75,443.32 560.00,443.96 560.25,444.65 560.50,445.38 560.75,446.15 561.00,446.95 561.25,447.78 561.50,448.63 561.75,449.49 562.00,450.35 562.25,451.22 562.50,452.09 562.75,452.95 563.00,453.79 563.25,454.62 563.50,455.43 563.75,456.22 564.00,456.97 564.25,457.70 564.50,458.40 564.75,459.06 565.00,459.69 565.25,460.29 565.50,460.85 565.75,461.37 566.00,461.86 566.25,462.31 566.50,462.74 566.75,463.12 567.00,463.48 567.25,463.81 567.50,464.11 567.75,464.38 568.00,464.63 568.25,464.85 568.50,465.06 568.75,465.24 569.00,465.41 569.25,465.56 569.50,465.69 569.75,465.81 570.00,465.91 570.25,466.00 570.50,466.09 570.75,466.16 571.00,466.22 571.25,466.28 571.50,466.33 571.75,466.38 572.00,466.42 572.25,466.45 572.50,466.49 572.75,466.51 573.00,466.54 573.25,466.56 573.50,466.59 573.75,466.61 574.00,466.62 574.25,466.64 574.50,466.66 574.75,466.67 575.00,466.69 575.25,466.70 575.50,466.71 575.75,466.72 576.00,466.74 576.25,466.75 576.50,466.76 576.75,466.77 577.00,466.78 577.25,466.79 577.50,466.81 577.75,466.82 578.00,466.83 578.25,466.84 578.50,466.85 578.75,466.86 579.00,466.87 579.25,466.88 579.50,466.89 579.75,466.90 580.00,466.91 580.25,466.92 580.50,466.94 580.75,466.95 581.00,466.96 581.25,466.97 581.50,466.98 581.75,466.99 582.00,467.00 582.25,467.01 582.50,467.02 582.75,467.03 583.00,467.04 583.25,467.05 583.50,467.06 583.75,467.07 584.00,467.09 584.25,467.10 584.50,467.11 584.75,467.12 585.00,467.13 585.25,467.14 585.50,467.15 585.75,467.16 586.00,467.17 586.25,467.18 586.50,467.19 586.75,467.20 587.00,467.21 587.25,467.22 587.50,467.24 587.75,467.25 588.00,467.26 588.25,467.27 588.50,467.28 588.75,467.29 589.00,467.30 589.25,467.30 589.50,467.30 589.75,467.30 590.00,467.30 590.25,467.30 590.50,467.30 590.75,467.30 591.00,467.30 591.25,467.30 591.50,467.30 591.75,467.30 592.00,467.30 592.25,467.30 592.50,467.30 592.75,467.29 593.00,467.29 593.25,467.29 593.50,467.29 593.75,467.29 594.00,467.29 594.25,467.28 594.50,467.28 594.75,467.28 595.00,467.27 595.25,467.27 595.50,467.26 595.75,467.25 596.00,467.24 596.25,467.23 596.50,467.22 596.75,467.20 597.00,467.18 597.25,467.16 597.50,467.14 597.75,467.11 598.00,467.08 598.25,467.05 598.50,467.01 598.75,466.96 599.00,466.91 599.25,466.85 599.50,466.78 599.75,466.71 600.00,466.62 600.25,466.52 600.50,466.42 600.75,466.30 601.00,466.16 601.25,466.02 601.50,465.86 601.75,465.68 602.00,465.48 602.25,465.26 602.50,465.03 602.75,464.77 603.00,464.50 603.25,464.20 603.50,463.87 603.75,463.52 604.00,463.15 604.25,462.75 604.50,462.33 604.75,461.88 605.00,461.40 605.25,460.90 605.50,460.37 605.75,459.82 606.00,459.24 606.25,458.64 606.50,458.02 606.75,457.38 607.00,456.72 607.25,456.05 607.50,455.36 607.75,454.66 608.00,453.96 608.25,453.25 608.50,452.54 608.75,451.83 609.00,451.13 609.25,450.44 609.50,449.77 609.75,449.11 610.00,448.48 610.25,447.87 610.50,447.30 610.75,446.75 611.00,446.25 611.25,445.79 611.50,445.37 611.75,445.00 612.00,444.68 612.25,444.41 612.50,444.20 612.75,444.04 613.00,443.94 613.25,443.90 613.50,443.92 613.75,443.99 614.00,444.13 614.25,444.32 614.50,444.56 614.75,444.86 615.00,445.21 615.25,445.61 615.50,446.06 615.75,446.55 616.00,447.07 616.25,447.64 616.50,448.23 616.75,448.86 617.00,449.50 617.25,450.17 617.50,450.86 617.75,451.55 618.00,452.26 618.25,452.97 618.50,453.67 618.75,454.38 619.00,455.08 619.25,455.77 619.50,456.45 619.75,457.12 620.00,457.77 620.25,458.39 620.50,459.00 620.75,459.59 621.00,460.15 621.25,460.69 621.50,461.20 621.75,461.69 622.00,462.15 622.25,462.59 622.50,462.99 622.75,463.38 623.00,463.74 623.25,464.07 623.50,464.38 623.75,464.67 624.00,464.93 624.25,465.17 624.50,465.40 624.75,465.60 625.00,465.79 625.25,465.95 625.50,466.11 625.75,466.25 626.00,466.37 626.25,466.48 626.50,466.58 626.75,466.67 627.00,466.75 627.25,466.82 627.50,466.89 627.75,466.94 628.00,466.99 628.25,467.03 628.50,467.07 628.75,467.10 629.00,467.13 629.25,467.13 629.50,467.14 629.75,467.13 630.00,467.13 630.25,467.12 630.50,467.11 630.75,467.10 631.00,467.09 631.25,467.08 631.50,467.06 631.75,467.04 632.00,467.03 632.25,467.01 632.50,466.99 632.75,466.98 633.00,466.96 633.25,466.94 633.50,466.92 633.75,466.90 634.00,466.88 634.25,466.86 634.50,466.84 634.75,466.82 635.00,466.80 635.25,466.68 635.50,466.56 635.75,466.45 636.00,466.33 636.25,466.21 636.50,466.09 636.75,465.97 637.00,465.86 637.25,465.74 637.50,465.62 637.75,465.50 638.00,465.38 638.25,465.27 638.50,465.15 638.75,465.03 639.00,464.91 639.25,464.80 639.50,464.68 639.75,464.56 640.00,464.44 640.25,464.32 640.50,464.40 640.75,464.53 641.00,464.66 641.25,464.78 641.50,464.91 641.75,465.04 642.00,465.16 642.25,465.29 642.50,465.42 642.75,465.55 643.00,465.67 643.25,465.80 643.50,465.93 643.75,466.06 644.00,466.18 644.25,466.31 644.50,466.44 644.75,466.56 645.00,466.69 645.25,466.82 645.50,466.95 645.75,467.07 646.00,467.20 646.25,467.20 646.50,467.21 646.75,467.21 647.00,467.21 647.25,467.22 647.50,467.22 647.75,467.22 648.00,467.22 648.25,467.23 648.50,467.23 648.75,467.23 649.00,467.24 649.25,467.24 649.50,467.24 649.75,467.25 650.00,467.25 650.25,467.25 650.50,467.26 650.75,467.26 651.00,467.26 651.25,467.27 651.50,467.27 651.75,467.27 652.00,467.27 652.25,467.28 652.50,467.28 652.75,467.28 653.00,467.29 653.25,467.29 653.50,467.29 653.75,467.30 654.00,467.30 654.25,467.30 654.50,467.31 654.75,467.31 655.00,467.31 655.25,467.32 655.50,467.32 655.75,467.32 656.00,467.32 656.25,467.33 656.50,467.33 656.75,467.33 657.00,467.34 657.25,467.34 657.50,467.34 657.75,467.35 658.00,467.35 658.25,467.35 658.50,467.36 658.75,467.36 659.00,467.36 659.25,467.37 659.50,467.37 659.75,467.37 660.00,467.38 661.00,467.39 662.00,467.40 663.00,467.41 664.00,467.43 665.00,467.44 666.00,467.45 667.00,467.46 668.00,467.48 669.00,467.49 670.00,467.50 671.00,467.48 672.00,467.45 673.00,467.43 674.00,467.40 675.00,467.38 676.00,467.35 677.00,467.32 678.00,467.30 679.00,467.27 680.00,467.25 681.00,467.23 682.00,467.20 683.00,467.18 684.00,467.15 685.00,467.12 686.00,467.10 687.00,467.07 688.00,467.05 689.00,467.02 690.00,467.00 691.00,466.97 692.00,466.95 693.00,466.93 694.00,466.90 695.00,466.88 696.00,466.85 697.00,466.82 698.00,466.80 699.00,466.77 700.00,466.75 701.00,466.72 702.00,466.70 703.00,466.75 704.00,466.79 705.00,466.84 706.00,466.89 707.00,466.93 708.00,466.98 709.00,467.03 710.00,467.07 711.00,467.12 712.00,467.17 713.00,467.22 714.00,467.26 715.00,467.31 716.00,467.36 717.00,467.40 718.00,467.45 719.00,467.50 720.00,467.54 721.00,467.59 722.00,467.64 723.00,467.68 724.00,467.73 725.00,467.78 726.00,467.82 727.00,467.87 728.00,467.92 729.00,467.97 730.00,468.01 731.00,468.06 732.00,468.11 733.00,468.15 734.00,468.20 735.00,468.21 736.00,468.22 737.00,468.24 738.00,468.25 739.00,468.26 740.00,468.27 741.00,468.29 742.00,468.30 743.00,468.31 744.00,468.32 745.00,468.34 746.00,468.35 747.00,468.36 748.00,468.38 749.00,468.39 750.00,468.40 751.00,468.41 752.00,468.43 753.00,468.44 754.00,468.45 755.00,468.46 756.00,468.47 757.00,468.49 758.00,468.50 759.00,468.51 760.00,468.52 761.00,468.54 762.00,468.55 763.00,468.56 764.00,468.57 765.00,468.59 766.00,468.60 767.00,468.61 768.00,468.62 769.00,468.64 770.00,468.65 771.00,468.66 772.00,468.68 773.00,468.69 774.00,468.70 775.00,468.71 776.00,468.73 777.00,468.74 778.00,468.75 779.00,468.76 780.00,468.77 781.00,468.79 782.00,468.80 783.00,468.81 784.00,468.82 785.00,468.84 786.00,468.85 787.00,468.86 788.00,468.88 789.00,468.89 790.00,468.90 791.00,468.91 792.00,468.93 793.00,468.94 794.00,468.95 795.00,468.96 796.00,468.98 797.00,468.99 798.00,469.00 799.00,469.02 800.00,469.05 801.00,469.07 802.00,469.09 803.00,469.12 804.00,469.14 805.00,469.16 806.00,469.19 807.00,469.21 808.00,469.23 809.00,469.26 810.00,469.28 811.00,469.30 812.00,469.33 813.00,469.35 814.00,469.38 815.00,469.40 816.00,469.42 817.00,469.45 818.00,469.47 819.00,469.49 820.00,469.52 821.00,469.54 822.00,469.56 823.00,469.59 824.00,469.61 825.00,469.63 826.00,469.66 827.00,469.68 828.00,469.70 829.00,469.73 830.00,469.75 831.00,469.77 832.00,469.80 833.00,469.82 834.00,469.84 835.00,469.87 836.00,469.89 837.00,469.91 838.00,469.94 839.00,469.96 840.00,469.98 841.00,470.01 842.00,470.03 843.00,470.05 844.00,470.08 845.00,470.10 846.00,470.12 847.00,470.15 848.00,470.17 849.00,470.20 850.00,470.22 851.00,470.24 852.00,470.27 853.00,470.29 854.00,470.31 855.00,470.34 856.00,470.36 857.00,470.38 858.00,470.41 859.00,470.43 860.00,470.45 861.00,470.48 862.00,470.50 863.00,470.45 864.00,470.40 865.00,470.35 866.00,470.30 867.00,470.25 868.00,470.20 869.00,470.15 870.00,470.10 871.00,470.05 872.00,470.00 873.00,469.95 874.00,469.90 875.00,469.85 876.00,469.80 877.00,469.75 878.00,469.70 879.00,469.65 880.00,469.60 881.00,469.55 882.00,469.50 883.00,469.45 884.00,469.40 885.00,469.35 886.00,469.30 887.00,469.25 888.00,469.20 889.00,469.25 890.00,469.29 891.00,469.34 892.00,469.39 893.00,469.43 894.00,469.48 895.00,469.52 896.00,469.57 897.00,469.62 898.00,469.66 899.00,469.71 900.00,469.76 901.00,469.80 902.00,469.85 903.00,469.90 904.00,469.94 905.00,469.99 906.00,470.04 907.00,470.08 908.00,470.13 909.00,470.18 910.00,470.22 911.00,470.27 912.00,470.31 913.00,470.36 914.00,470.41 915.00,470.45 916.00,470.50 917.00,470.52 918.00,470.55 919.00,470.57 920.00,470.59 921.00,470.61 922.00,470.64 923.00,470.66 924.00,470.68 925.00,470.70 926.00,470.73 927.00,470.75 928.00,470.77 929.00,470.79 930.00,470.82 931.00,470.84 932.00,470.86 933.00,470.89 934.00,470.91 935.00,470.93 936.00,470.95 937.00,470.98 938.00,471.00 939.00,471.02 940.00,471.04 941.00,471.07 942.00,471.09 943.00,471.11 944.00,471.13 945.00,471.16 946.00,471.18 947.00,471.20 948.00,471.23 949.00,471.25 950.00,471.27 951.00,471.29 952.00,471.32 953.00,471.34 954.00,471.36 955.00,471.38 956.00,471.39 957.00,471.36 958.00,471.33 959.00,471.31 960.00,471.28 961.00,471.25 962.00,471.22 963.00,471.19 964.00,471.16 965.00,471.13 966.00,471.10 967.00,471.08 968.00,471.05 969.00,471.02 970.00,470.99 971.00,470.96 972.00,470.93 973.00,470.90 974.00,470.87 975.00,470.85 976.00,470.82 977.00,470.79 978.00,470.76 979.00,470.73 980.00,470.70 981.00,470.67 982.00,470.64 983.00,470.62 984.00,470.59 985.00,470.56 986.00,470.53 987.00,470.50 988.00,470.47 989.00,470.44 990.00,470.41 991.00,470.39 992.00,470.36 993.00,470.33 994.00,470.30 995.00,470.31 996.00,470.32 997.00,470.34 998.00,470.35 999.00,470.36 1000.00,470.38 1001.00,470.39 1002.00,470.40 1003.00,470.41 1004.00,470.43 1005.00,470.44 1006.00,470.45 1007.00,470.46 1008.00,470.48 1009.00,470.49 1010.00,470.50 1011.00,470.51 1012.00,470.52 1013.00,470.54 1014.00,470.55 1015.00,470.56 1016.00,470.57 1017.00,470.59 1018.00,470.60 1019.00,470.61 1020.00,470.62 1021.00,470.64 1022.00,470.65 1023.00,470.66 1024.00,470.68 1025.00,470.69 1026.00,470.70 1027.00,470.63 1028.00,470.57 1029.00,470.50 1030.00,470.44 1031.00,470.37 1032.00,470.31 1033.00,470.24 1034.00,470.18 1035.00,470.11 1036.00,470.04 1037.00,469.98 1038.00,469.91 1039.00,469.85 1040.00,469.78 1041.00,469.72 1042.00,469.65 1043.00,469.58 1044.00,469.52 1045.00,469.45 1046.00,469.39 1047.00,469.32 1048.00,469.26 1049.00,469.19 1050.00,469.12 1051.00,469.06 1052.00,468.99 1053.00,468.93 1054.00,468.86 1055.00,468.80 1056.00,468.73 1057.00,468.67 1058.00,468.60 1059.00,468.60 1060.00,468.60 1061.00,468.60 1062.00,468.60 1063.00,468.60 1064.00,468.60 1065.00,468.60 1066.00,468.60 1067.00,468.60 1068.00,468.60 1069.00,468.60 1070.00,468.60 1071.00,468.60 1072.00,468.60 1073.00,468.60 1074.00,468.60 1075.00,468.60 1076.00,468.60 1077.00,468.60 1078.00,468.60 1079.00,468.60 1080.00,468.60 1081.00,468.60 1082.00,468.60 1083.00,468.60 1084.00,468.60 1085.00,468.68 1086.00,468.76 1087.00,468.84 1088.00,468.92 1089.00,469.00 1090.00,469.09 1091.00,469.17 1092.00,469.25 1093.00,469.33 1094.00,469.41 1095.00,469.49 1096.00,469.57 1097.00,469.65 1098.00,469.73 1099.00,469.81 1100.00,469.90 1101.00,469.98 1102.00,470.06 1103.00,470.14 1104.00,470.22 1105.00,470.30 1106.00,470.30 1107.00,470.30 1108.00,470.30 1109.00,470.30 1110.00,470.30 1111.00,470.30 1112.00,470.30 1113.00,470.30 1114.00,470.30 1115.00,470.30 1116.00,470.30 1117.00,470.30 1118.00,470.30 1119.00,470.30 1120.00,470.30 1121.00,470.30 1122.00,470.30 1123.00,470.30 1124.00,470.30 1125.00,470.30 1126.00,470.30 1127.00,470.30 1128.00,470.30 1129.00,470.30 1130.00,470.30 1131.00,470.30 1132.00,470.30 1133.00,470.30 1134.00,470.30 1135.00,470.30 1136.00,470.30 1137.00,470.30 1138.00,470.30 1139.00,470.30 1140.00,470.30 1141.00,470.30 1142.00,470.30 1143.00,470.30 1144.00,470.30 1145.00,470.30 1146.00,470.30 1147.00,470.30 1148.00,470.30 1149.00,470.30 1150.00,470.30 1151.00,470.30 1152.00,470.30 1153.00,470.30 1154.00,470.30 1155.00,470.28 1156.00,470.26 1157.00,470.24 1158.00,470.22 1159.00,470.20 1160.00,470.18 1161.00,470.16 1162.00,470.14 1163.00,470.12 1164.00,470.09 1165.00,470.07 1166.00,470.05 1167.00,470.03 1168.00,470.01 1169.00,469.99 1170.00,469.97 1171.00,469.95 1172.00,469.93 1173.00,469.91 1174.00,469.89 1175.00,469.87 1176.00,469.85 1177.00,469.83 1178.00,469.81 1179.00,469.79 1180.00,469.77 1181.00,469.75 1182.00,469.73 1183.00,469.71 1184.00,469.68 1185.00,469.66 1186.00,469.64 1187.00,469.62 1188.00,469.60 1189.00,469.58 1190.00,469.56 1191.00,469.54 1192.00,469.52 1193.00,469.50"/>
<g stroke="#1a1a1a" stroke-width="1.6"><line x1="142.0" y1="336.8" x2="142.0" y2="361.3"/><line x1="198.9" y1="407.5" x2="198.9" y2="432.0"/><line x1="256.8" y1="361.6" x2="256.8" y2="386.1"/><line x1="401.0" y1="412.1" x2="401.0" y2="436.6"/><line x1="557.6" y1="428.0" x2="557.6" y2="452.5"/><line x1="613.3" y1="431.4" x2="613.3" y2="455.9"/></g>
<g stroke="#222" stroke-width="1.6" fill="none">
<polyline points="71,49 1193,49 1193,478.5 71,478.5 71,49"/>
<line x1="64.5" y1="478.5" x2="71" y2="478.5"/>
<line x1="64.5" y1="478.98" x2="71" y2="478.98"/><line x1="60" y1="468.50" x2="71" y2="468.50"/><line x1="64.5" y1="458.02" x2="71" y2="458.02"/><line x1="64.5" y1="447.55" x2="71" y2="447.55"/><line x1="64.5" y1="437.07" x2="71" y2="437.07"/><line x1="64.5" y1="426.60" x2="71" y2="426.60"/><line x1="60" y1="416.12" x2="71" y2="416.12"/><line x1="64.5" y1="405.65" x2="71" y2="405.65"/><line x1="64.5" y1="395.18" x2="71" y2="395.18"/><line x1="64.5" y1="384.70" x2="71" y2="384.70"/><line x1="64.5" y1="374.23" x2="71" y2="374.23"/><line x1="60" y1="363.75" x2="71" y2="363.75"/><line x1="64.5" y1="353.27" x2="71" y2="353.27"/><line x1="64.5" y1="342.80" x2="71" y2="342.80"/><line x1="64.5" y1="332.33" x2="71" y2="332.33"/><line x1="64.5" y1="321.85" x2="71" y2="321.85"/><line x1="60" y1="311.38" x2="71" y2="311.38"/><line x1="64.5" y1="300.90" x2="71" y2="300.90"/><line x1="64.5" y1="290.43" x2="71" y2="290.43"/><line x1="64.5" y1="279.95" x2="71" y2="279.95"/><line x1="64.5" y1="269.48" x2="71" y2="269.48"/><line x1="60" y1="259.00" x2="71" y2="259.00"/><line x1="64.5" y1="248.53" x2="71" y2="248.53"/><line x1="64.5" y1="238.05" x2="71" y2="238.05"/><line x1="64.5" y1="227.58" x2="71" y2="227.58"/><line x1="64.5" y1="217.10" x2="71" y2="217.10"/><line x1="60" y1="206.62" x2="71" y2="206.62"/><line x1="64.5" y1="196.15" x2="71" y2="196.15"/><line x1="64.5" y1="185.68" x2="71" y2="185.68"/><line x1="64.5" y1="175.20" x2="71" y2="175.20"/><line x1="64.5" y1="164.73" x2="71" y2="164.73"/><line x1="60" y1="154.25" x2="71" y2="154.25"/><line x1="64.5" y1="143.78" x2="71" y2="143.78"/><line x1="64.5" y1="133.30" x2="71" y2="133.30"/><line x1="64.5" y1="122.82" x2="71" y2="122.82"/><line x1="64.5" y1="112.35" x2="71" y2="112.35"/><line x1="60" y1="101.88" x2="71" y2="101.88"/><line x1="64.5" y1="91.40" x2="71" y2="91.40"/><line x1="64.5" y1="80.93" x2="71" y2="80.93"/><line x1="64.5" y1="70.45" x2="71" y2="70.45"/><line x1="64.5" y1="59.98" x2="71" y2="59.98"/><line x1="60" y1="49.50" x2="71" y2="49.50"/>
<line x1="71.00" y1="481" x2="71.00" y2="490"/><line x1="89.70" y1="481" x2="89.70" y2="486.5"/><line x1="108.40" y1="481" x2="108.40" y2="486.5"/><line x1="127.10" y1="481" x2="127.10" y2="486.5"/><line x1="145.80" y1="481" x2="145.80" y2="490"/><line x1="164.50" y1="481" x2="164.50" y2="486.5"/><line x1="183.20" y1="481" x2="183.20" y2="486.5"/><line x1="201.90" y1="481" x2="201.90" y2="486.5"/><line x1="220.60" y1="481" x2="220.60" y2="490"/><line x1="239.30" y1="481" x2="239.30" y2="486.5"/><line x1="258.00" y1="481" x2="258.00" y2="486.5"/><line x1="276.70" y1="481" x2="276.70" y2="486.5"/><line x1="295.40" y1="481" x2="295.40" y2="490"/><line x1="314.10" y1="481" x2="314.10" y2="486.5"/><line x1="332.80" y1="481" x2="332.80" y2="486.5"/><line x1="351.50" y1="481" x2="351.50" y2="486.5"/><line x1="370.20" y1="481" x2="370.20" y2="490"/><line x1="388.90" y1="481" x2="388.90" y2="486.5"/><line x1="407.60" y1="481" x2="407.60" y2="486.5"/><line x1="426.30" y1="481" x2="426.30" y2="486.5"/><line x1="445.00" y1="481" x2="445.00" y2="490"/><line x1="463.70" y1="481" x2="463.70" y2="486.5"/><line x1="482.40" y1="481" x2="482.40" y2="486.5"/><line x1="501.10" y1="481" x2="501.10" y2="486.5"/><line x1="519.80" y1="481" x2="519.80" y2="490"/><line x1="538.50" y1="481" x2="538.50" y2="486.5"/><line x1="557.20" y1="481" x2="557.20" y2="486.5"/><line x1="575.90" y1="481" x2="575.90" y2="486.5"/><line x1="594.60" y1="481" x2="594.60" y2="490"/><line x1="613.30" y1="481" x2="613.30" y2="486.5"/><line x1="632.00" y1="481" x2="632.00" y2="486.5"/><line x1="650.70" y1="481" x2="650.70" y2="486.5"/><line x1="669.40" y1="481" x2="669.40" y2="490"/><line x1="688.10" y1="481" x2="688.10" y2="486.5"/><line x1="706.80" y1="481" x2="706.80" y2="486.5"/><line x1="725.50" y1="481" x2="725.50" y2="486.5"/><line x1="744.20" y1="481" x2="744.20" y2="490"/><line x1="762.90" y1="481" x2="762.90" y2="486.5"/><line x1="781.60" y1="481" x2="781.60" y2="486.5"/><line x1="800.30" y1="481" x2="800.30" y2="486.5"/><line x1="819.00" y1="481" x2="819.00" y2="490"/><line x1="837.70" y1="481" x2="837.70" y2="486.5"/><line x1="856.40" y1="481" x2="856.40" y2="486.5"/><line x1="875.10" y1="481" x2="875.10" y2="486.5"/><line x1="893.80" y1="481" x2="893.80" y2="490"/><line x1="912.50" y1="481" x2="912.50" y2="486.5"/><line x1="931.20" y1="481" x2="931.20" y2="486.5"/><line x1="949.90" y1="481" x2="949.90" y2="486.5"/><line x1="968.60" y1="481" x2="968.60" y2="490"/><line x1="987.30" y1="481" x2="987.30" y2="486.5"/><line x1="1006.00" y1="481" x2="1006.00" y2="486.5"/><line x1="1024.70" y1="481" x2="1024.70" y2="486.5"/><line x1="1043.40" y1="481" x2="1043.40" y2="490"/><line x1="1062.10" y1="481" x2="1062.10" y2="486.5"/><line x1="1080.80" y1="481" x2="1080.80" y2="486.5"/><line x1="1099.50" y1="481" x2="1099.50" y2="486.5"/><line x1="1118.20" y1="481" x2="1118.20" y2="490"/><line x1="1136.90" y1="481" x2="1136.90" y2="486.5"/><line x1="1155.60" y1="481" x2="1155.60" y2="486.5"/><line x1="1174.30" y1="481" x2="1174.30" y2="486.5"/><line x1="1193.00" y1="481" x2="1193.00" y2="490"/>
</g>
<g class="ylab"><text x="60.80" y="475.70" transform="matrix(1 0 0 1.1 0 -47.570)">0.000</text><text x="60.80" y="423.32" transform="matrix(1 0 0 1.1 0 -42.333)">0.005</text><text x="60.80" y="370.95" transform="matrix(1 0 0 1.1 0 -37.095)">0.010</text><text x="60.80" y="318.57" transform="matrix(1 0 0 1.1 0 -31.858)">0.015</text><text x="60.80" y="266.20" transform="matrix(1 0 0 1.1 0 -26.620)">0.020</text><text x="60.80" y="213.82" transform="matrix(1 0 0 1.1 0 -21.383)">0.025</text><text x="60.80" y="161.45" transform="matrix(1 0 0 1.1 0 -16.145)">0.030</text><text x="60.80" y="109.08" transform="matrix(1 0 0 1.1 0 -10.908)">0.035</text><text x="60.80" y="56.70" transform="matrix(1 0 0 1.1 0 -5.670)">0.040</text></g>
<g class="xlab"><text x="71.50" y="506.30" transform="matrix(1 0 0 1.1 0 -50.630)">0.00</text><text x="146.30" y="506.30" transform="matrix(1 0 0 1.1 0 -50.630)">2.00</text><text x="221.10" y="506.30" transform="matrix(1 0 0 1.1 0 -50.630)">4.00</text><text x="295.90" y="506.30" transform="matrix(1 0 0 1.1 0 -50.630)">6.00</text><text x="370.70" y="506.30" transform="matrix(1 0 0 1.1 0 -50.630)">8.00</text><text x="445.50" y="506.30" transform="matrix(1 0 0 1.1 0 -50.630)">10.00</text><text x="520.30" y="506.30" transform="matrix(1 0 0 1.1 0 -50.630)">12.00</text><text x="595.10" y="506.30" transform="matrix(1 0 0 1.1 0 -50.630)">14.00</text><text x="669.90" y="506.30" transform="matrix(1 0 0 1.1 0 -50.630)">16.00</text><text x="744.70" y="506.30" transform="matrix(1 0 0 1.1 0 -50.630)">18.00</text><text x="819.50" y="506.30" transform="matrix(1 0 0 1.1 0 -50.630)">20.00</text><text x="894.30" y="506.30" transform="matrix(1 0 0 1.1 0 -50.630)">22.00</text><text x="969.10" y="506.30" transform="matrix(1 0 0 1.1 0 -50.630)">24.00</text><text x="1043.90" y="506.30" transform="matrix(1 0 0 1.1 0 -50.630)">26.00</text><text x="1118.70" y="506.30" transform="matrix(1 0 0 1.1 0 -50.630)">28.00</text><text x="1193.50" y="506.30" transform="matrix(1 0 0 1.1 0 -50.630)">30.00</text></g>
<text x="632.30" y="530.00" transform="matrix(1 0 0 1.1 0 -53.000)" font-size="17.5" text-anchor="middle" letter-spacing="0.3">Minutes</text>
<text transform="translate(5.7,263.6) rotate(-90) scale(1,1.1)" font-size="17" text-anchor="middle">AU</text>
<g class="plab"><text transform="translate(148.6,333.3) rotate(-90)">1.909</text><text transform="translate(205.5,405.0) rotate(-90)">3.433</text><text transform="translate(263.40000000000003,359.1) rotate(-90)">4.981</text><text transform="translate(407.6,409.6) rotate(-90)">8.826</text><text transform="translate(564.2,424.5) rotate(-90)">12.991</text><text transform="translate(619.9,427.9) rotate(-90)">14.487</text><text transform="translate(492.9,122.0) rotate(-90)">11.095</text></g>
<g class="lets"><text x="132.03" y="245.9">a</text><text x="189.22" y="299.6">b</text><text x="244.68" y="258.0">d</text><text x="388.58" y="331.9">f</text><text x="543.31" y="331.0">g</text><text x="604.75" y="329.9">h</text></g>
<g fill="#888"><polygon points="147.8,235.7 150.8,233.2 150.8,238.2"/><polygon points="206.5,289.6 209.5,287.1 209.5,292.1"/><polygon points="262.7,247.3 265.7,244.8 265.7,249.8"/><polygon points="399.7,321.6 402.7,319.1 402.7,324.1"/><polygon points="656.4,319.2 659.4,316.7 659.4,321.7"/></g>
<text class="title" x="517.5" y="585.9" text-anchor="middle" style="font-size:23.5px;letter-spacing:0.5px">Peak Results</text>
<g stroke="#000" stroke-width="1.4"><line x1="39" y1="592" x2="39" y2="911"/><line x1="90.5" y1="592" x2="90.5" y2="911"/><line x1="158" y1="592" x2="158" y2="911"/><line x1="250.5" y1="592" x2="250.5" y2="911"/><line x1="323" y1="592" x2="323" y2="911"/><line x1="473" y1="592" x2="473" y2="911"/><line x1="588" y1="592" x2="588" y2="911"/><line x1="730" y1="592" x2="730" y2="911"/><line x1="813" y1="592" x2="813" y2="911"/><line x1="897" y1="592" x2="897" y2="911"/><line x1="994" y1="592" x2="994" y2="911"/><line x1="39" y1="592" x2="994" y2="592"/><line x1="39" y1="647" x2="994" y2="647"/><line x1="39" y1="680" x2="994" y2="680"/><line x1="39" y1="713" x2="994" y2="713"/><line x1="39" y1="746" x2="994" y2="746"/><line x1="39" y1="779" x2="994" y2="779"/><line x1="39" y1="812" x2="994" y2="812"/><line x1="39" y1="845" x2="994" y2="845"/><line x1="39" y1="878" x2="994" y2="878"/><line x1="39" y1="911" x2="994" y2="911"/></g>
<g class="tab"><text class="hc" x="124.25" y="625.30" transform="matrix(1 0 0 1.1 0 -62.530)" style="letter-spacing:0px">RT</text><text class="hc" x="204.40" y="625.30" transform="matrix(1 0 0 1.1 0 -62.530)" style="letter-spacing:0.3px">Area</text><text class="hc" x="287.20" y="625.30" transform="matrix(1 0 0 1.1 0 -62.530)" style="letter-spacing:0.9px">Height</text><text class="hc" x="398.25" y="625.30" transform="matrix(1 0 0 1.1 0 -62.530)" style="letter-spacing:0.5px">USP Plate Count</text><text class="hc" x="531.10" y="625.30" transform="matrix(1 0 0 1.1 0 -62.530)" style="letter-spacing:1.2px">USP Tailing</text><text class="hc" x="659.30" y="625.30" transform="matrix(1 0 0 1.1 0 -62.530)" style="letter-spacing:0.6px">USP Resolution</text><text class="hc" x="771.95" y="613.80" transform="matrix(1 0 0 1.1 0 -61.380)" style="letter-spacing:0.9px">Result</text><text class="hc" x="771.65" y="635.80" transform="matrix(1 0 0 1.1 0 -63.580)" style="letter-spacing:0.3px">Id</text><text class="hc" x="855.15" y="613.80" transform="matrix(1 0 0 1.1 0 -61.380)" style="letter-spacing:0.3px">Purity1</text><text class="hc" x="855.55" y="635.80" transform="matrix(1 0 0 1.1 0 -63.580)" style="letter-spacing:1.1px">Angle</text><text class="hc" x="945.65" y="613.80" transform="matrix(1 0 0 1.1 0 -61.380)" style="letter-spacing:0.3px">Purity1</text><text class="hc" x="945.88" y="635.80" transform="matrix(1 0 0 1.1 0 -63.580)" style="letter-spacing:0.75px">Threshold</text><text class="hc" x="65.95" y="669.30" transform="matrix(1 0 0 1.1 0 -66.930)">1</text><text class="hr" x="151.00" y="669.30" transform="matrix(1 0 0 1.1 0 -66.930)">1.909</text><text class="hl" x="167.00" y="669.30" transform="matrix(1 0 0 1.1 0 -66.930)">40955</text><text class="hr" x="316.00" y="669.30" transform="matrix(1 0 0 1.1 0 -66.930)">11216</text><text class="hc" x="399.20" y="669.30" transform="matrix(1 0 0 1.1 0 -66.930)">6248</text><text class="hr" x="581.00" y="669.30" transform="matrix(1 0 0 1.1 0 -66.930)">0.97</text><text class="hr" x="806.00" y="669.30" transform="matrix(1 0 0 1.1 0 -66.930)">4605</text><text class="hr" x="890.00" y="669.30" transform="matrix(1 0 0 1.1 0 -66.930)">0.139</text><text class="hr" x="987.00" y="669.30" transform="matrix(1 0 0 1.1 0 -66.930)">0.409</text><text class="hc" x="65.95" y="702.30" transform="matrix(1 0 0 1.1 0 -70.230)">2</text><text class="hr" x="151.00" y="702.30" transform="matrix(1 0 0 1.1 0 -70.230)">3.433</text><text class="hl" x="167.00" y="702.30" transform="matrix(1 0 0 1.1 0 -70.230)">27347</text><text class="hr" x="316.00" y="702.30" transform="matrix(1 0 0 1.1 0 -70.230)">4626</text><text class="hc" x="399.20" y="702.30" transform="matrix(1 0 0 1.1 0 -70.230)">9247</text><text class="hr" x="581.00" y="702.30" transform="matrix(1 0 0 1.1 0 -70.230)">0.75</text><text class="hr" x="723.00" y="702.30" transform="matrix(1 0 0 1.1 0 -70.230)">12.5</text><text class="hr" x="806.00" y="702.30" transform="matrix(1 0 0 1.1 0 -70.230)">4605</text><text class="hr" x="890.00" y="702.30" transform="matrix(1 0 0 1.1 0 -70.230)">1.787</text><text class="hr" x="987.00" y="702.30" transform="matrix(1 0 0 1.1 0 -70.230)">0.828</text><text class="hc" x="65.95" y="735.30" transform="matrix(1 0 0 1.1 0 -73.530)">3</text><text class="hr" x="151.00" y="735.30" transform="matrix(1 0 0 1.1 0 -73.530)">4.981</text><text class="hl" x="167.00" y="735.30" transform="matrix(1 0 0 1.1 0 -73.530)">68485</text><text class="hr" x="316.00" y="735.30" transform="matrix(1 0 0 1.1 0 -73.530)">8959</text><text class="hc" x="399.20" y="735.30" transform="matrix(1 0 0 1.1 0 -73.530)">10272</text><text class="hr" x="581.00" y="735.30" transform="matrix(1 0 0 1.1 0 -73.530)">0.99</text><text class="hr" x="723.00" y="735.30" transform="matrix(1 0 0 1.1 0 -73.530)">8.9</text><text class="hr" x="806.00" y="735.30" transform="matrix(1 0 0 1.1 0 -73.530)">4605</text><text class="hr" x="890.00" y="735.30" transform="matrix(1 0 0 1.1 0 -73.530)">0.239</text><text class="hr" x="987.00" y="735.30" transform="matrix(1 0 0 1.1 0 -73.530)">0.337</text><text class="hc" x="65.95" y="768.30" transform="matrix(1 0 0 1.1 0 -76.830)">4</text><text class="hr" x="151.00" y="768.30" transform="matrix(1 0 0 1.1 0 -76.830)">8.826</text><text class="hl" x="167.00" y="768.30" transform="matrix(1 0 0 1.1 0 -76.830)">51951</text><text class="hr" x="316.00" y="768.30" transform="matrix(1 0 0 1.1 0 -76.830)">3815</text><text class="hc" x="399.20" y="768.30" transform="matrix(1 0 0 1.1 0 -76.830)">10151</text><text class="hr" x="581.00" y="768.30" transform="matrix(1 0 0 1.1 0 -76.830)">0.94</text><text class="hr" x="723.00" y="768.30" transform="matrix(1 0 0 1.1 0 -76.830)">13.7</text><text class="hr" x="806.00" y="768.30" transform="matrix(1 0 0 1.1 0 -76.830)">4605</text><text class="hr" x="890.00" y="768.30" transform="matrix(1 0 0 1.1 0 -76.830)">0.361</text><text class="hr" x="987.00" y="768.30" transform="matrix(1 0 0 1.1 0 -76.830)">0.736</text><text class="hc" x="65.95" y="801.30" transform="matrix(1 0 0 1.1 0 -80.130)">5</text><text class="hr" x="151.00" y="801.30" transform="matrix(1 0 0 1.1 0 -80.130)">11.095</text><text class="hl" x="167.00" y="801.30" transform="matrix(1 0 0 1.1 0 -80.130)">11731179</text><text class="hr" x="316.00" y="801.30" transform="matrix(1 0 0 1.1 0 -80.130)">560442</text><text class="hc" x="399.20" y="801.30" transform="matrix(1 0 0 1.1 0 -80.130)">6533</text><text class="hr" x="581.00" y="801.30" transform="matrix(1 0 0 1.1 0 -80.130)">0.82</text><text class="hr" x="723.00" y="801.30" transform="matrix(1 0 0 1.1 0 -80.130)">5.0</text><text class="hr" x="806.00" y="801.30" transform="matrix(1 0 0 1.1 0 -80.130)">4605</text><text class="hr" x="890.00" y="801.30" transform="matrix(1 0 0 1.1 0 -80.130)">0.022</text><text class="hr" x="987.00" y="801.30" transform="matrix(1 0 0 1.1 0 -80.130)">0.243</text><text class="hc" x="65.95" y="834.30" transform="matrix(1 0 0 1.1 0 -83.430)">6</text><text class="hr" x="151.00" y="834.30" transform="matrix(1 0 0 1.1 0 -83.430)">12.991</text><text class="hl" x="167.00" y="834.30" transform="matrix(1 0 0 1.1 0 -83.430)">46707</text><text class="hr" x="316.00" y="834.30" transform="matrix(1 0 0 1.1 0 -83.430)">2482</text><text class="hc" x="399.20" y="834.30" transform="matrix(1 0 0 1.1 0 -83.430)">10770</text><text class="hr" x="581.00" y="834.30" transform="matrix(1 0 0 1.1 0 -83.430)">0.89</text><text class="hr" x="723.00" y="834.30" transform="matrix(1 0 0 1.1 0 -83.430)">3.5</text><text class="hr" x="806.00" y="834.30" transform="matrix(1 0 0 1.1 0 -83.430)">4605</text><text class="hr" x="890.00" y="834.30" transform="matrix(1 0 0 1.1 0 -83.430)">0.598</text><text class="hr" x="987.00" y="834.30" transform="matrix(1 0 0 1.1 0 -83.430)">0.926</text><text class="hc" x="65.95" y="867.30" transform="matrix(1 0 0 1.1 0 -86.730)">7</text><text class="hr" x="151.00" y="867.30" transform="matrix(1 0 0 1.1 0 -86.730)">14.487</text><text class="hl" x="167.00" y="867.30" transform="matrix(1 0 0 1.1 0 -86.730)">48700</text><text class="hr" x="316.00" y="867.30" transform="matrix(1 0 0 1.1 0 -86.730)">2278</text><text class="hc" x="399.20" y="867.30" transform="matrix(1 0 0 1.1 0 -86.730)">10765</text><text class="hr" x="581.00" y="867.30" transform="matrix(1 0 0 1.1 0 -86.730)">0.90</text><text class="hr" x="723.00" y="867.30" transform="matrix(1 0 0 1.1 0 -86.730)">2.8</text><text class="hr" x="806.00" y="867.30" transform="matrix(1 0 0 1.1 0 -86.730)">4605</text><text class="hr" x="890.00" y="867.30" transform="matrix(1 0 0 1.1 0 -86.730)">0.630</text><text class="hr" x="987.00" y="867.30" transform="matrix(1 0 0 1.1 0 -86.730)">1.035</text><text class="hc" x="65.95" y="900.30" transform="matrix(1 0 0 1.1 0 -90.030)" style="letter-spacing:0.9px">Sum</text><text class="hl" x="167.00" y="900.30" transform="matrix(1 0 0 1.1 0 -90.030)" style="letter-spacing:0.3px">12015325</text></g>
</svg>
</body></html>
